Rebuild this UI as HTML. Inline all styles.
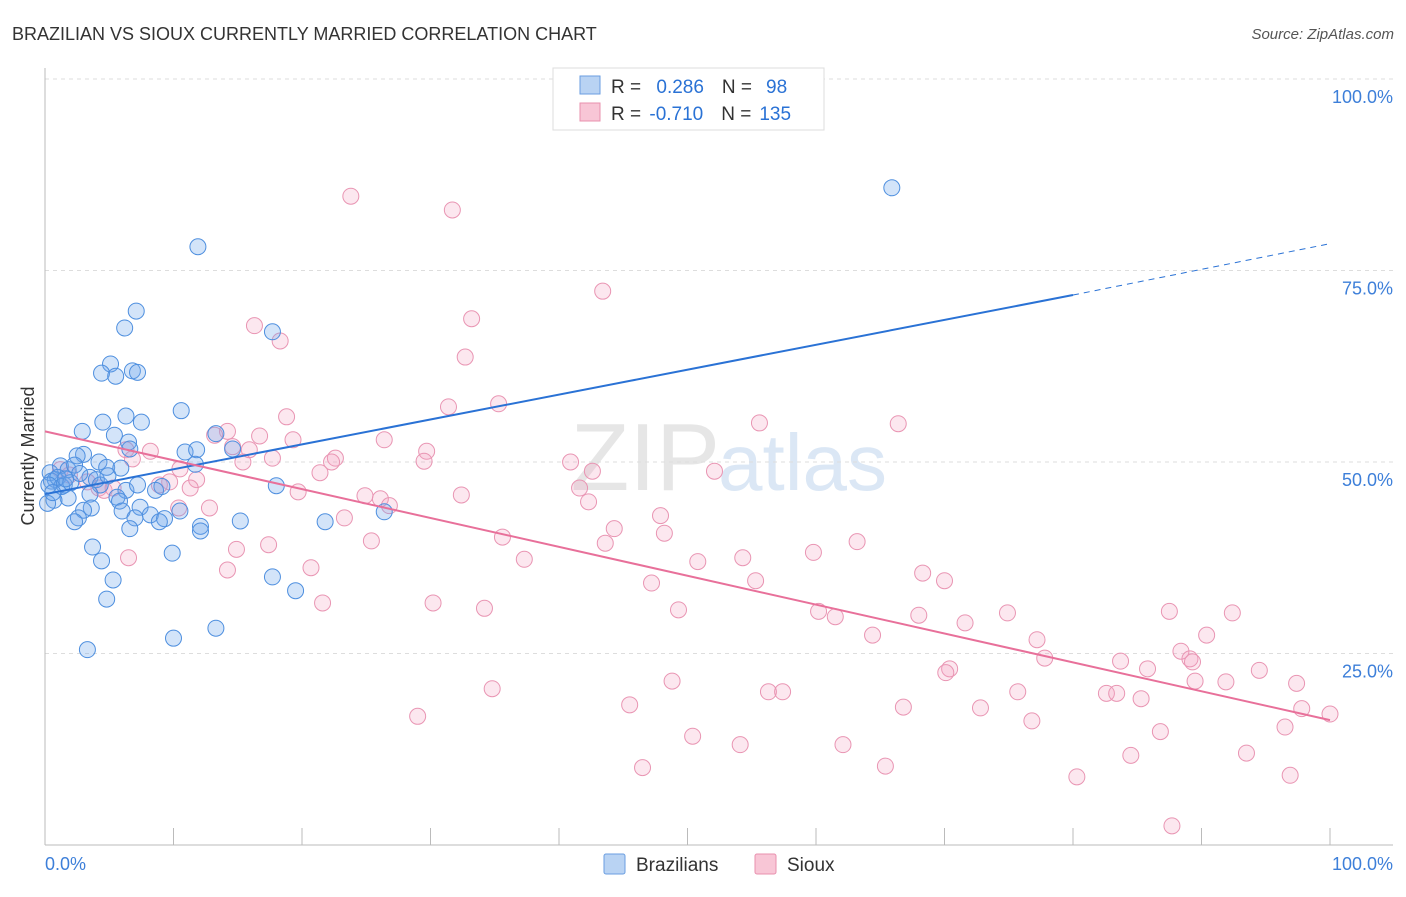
<!DOCTYPE html>
<html><head><meta charset="utf-8"><style>
body{margin:0;background:#fff;font-family:"Liberation Sans",sans-serif;}
svg text{font-family:"Liberation Sans",sans-serif;}
</style></head><body>
<svg id="chart" width="1406" height="892">
<text x="12" y="40" font-size="18" fill="#333">BRAZILIAN VS SIOUX CURRENTLY MARRIED CORRELATION CHART</text>
<text x="1394" y="39" font-size="15" fill="#555" font-style="italic" text-anchor="end">Source: ZipAtlas.com</text>
<text x="720" y="490" font-size="96" fill="#e6e6e6" text-anchor="end" font-family="Liberation Serif">ZIP</text>
<text x="718" y="490" font-size="80" fill="#dbe7f5">atlas</text>
<text transform="translate(34,456) rotate(-90)" font-size="18" fill="#333" text-anchor="middle">Currently Married</text>
<g id="grid"></g><g id="pts"></g><g id="lines"></g>
<g>
<rect x="553" y="68" width="271" height="62" fill="#fff" stroke="#ddd"/>
<rect x="580" y="76" width="20" height="18" fill="#b9d3f3" stroke="#6a9ee0"/>
<rect x="580" y="103" width="20" height="18" fill="#f8c6d6" stroke="#e890ae"/>
<text x="611" y="93" font-size="19" fill="#333">R = <tspan fill="#2a72d5" dx="10">0.286</tspan><tspan fill="#333" dx="18">N =</tspan><tspan fill="#2a72d5" dx="14">98</tspan></text>
<text x="611" y="120" font-size="19" fill="#333">R = <tspan fill="#2a72d5" dx="3">-0.710</tspan><tspan fill="#333" dx="18">N =</tspan><tspan fill="#2a72d5" dx="8">135</tspan></text>
</g>
<g>
<rect x="604" y="854" width="21" height="20" fill="#b9d3f3" stroke="#6a9ee0" rx="2"/>
<text x="636" y="871" font-size="19" fill="#333">Brazilians</text>
<rect x="755" y="854" width="21" height="20" fill="#f8c6d6" stroke="#e890ae" rx="2"/>
<text x="787" y="871" font-size="19" fill="#333">Sioux</text>
</g>
</svg>
<script>
const blueX=[65.9,11.9,7.1,6.2,17.7,5.1,4.4,5.5,6.8,7.2,10.6,6.3,4.5,7.5,2.9,5.4,13.3,6.5,10.9,11.8,14.6,6.6,3.0,2.5,4.2,4.8,5.9,11.7,1.2,1.8,2.3,0.4,0.8,1.5,3.5,4.0,4.3,4.9,18.0,9.1,8.6,6.3,7.2,5.6,5.8,3.5,1.8,0.7,0.2,7.4,6.0,3.6,3.0,10.5,26.4,8.2,9.3,7.0,2.6,2.3,15.2,21.8,8.9,12.1,12.1,6.6,3.7,9.9,4.4,5.3,17.7,19.5,4.8,13.3,10.0,3.3,0.5,1.0,1.3,2.0,2.7,0.3,0.6,1.6];
const blueY=[85.8,78.1,69.7,67.5,67.0,62.8,61.6,61.2,61.9,61.7,56.7,56.0,55.2,55.2,54.0,53.5,53.7,52.6,51.3,51.6,51.7,51.7,51.0,50.8,50.0,49.3,49.2,49.7,49.5,49.0,49.6,48.6,47.7,47.0,48.0,47.7,47.0,48.2,46.9,46.8,46.3,46.3,47.0,45.4,44.9,45.8,45.3,45.0,44.6,44.1,43.6,44.0,43.7,43.6,43.5,43.1,42.6,42.7,42.7,42.2,42.3,42.2,42.2,41.6,41.0,41.3,38.9,38.1,37.1,34.6,35.0,33.2,32.1,28.3,27.0,25.5,47.5,48.0,46.8,47.3,48.5,47.0,46.0,47.8];
const pinkX=[23.8,31.7,43.4,33.2,16.3,18.3,32.7,31.4,35.3,18.8,55.6,66.4,14.2,16.7,13.2,26.4,19.3,14.6,15.9,29.7,8.2,6.3,22.6,17.7,6.8,15.4,22.3,29.5,40.9,10.5,21.4,42.6,52.1,11.8,11.3,9.7,8.9,3.3,4.2,4.6,5.3,1.2,1.9,19.7,41.6,32.4,24.9,26.1,42.3,26.8,12.8,10.4,23.3,47.9,44.3,48.2,35.6,25.4,43.6,63.2,17.4,14.9,59.8,54.3,37.3,50.8,6.5,20.7,14.2,68.3,55.3,70.0,47.2,30.2,34.2,21.6,49.3,60.2,74.9,87.5,92.4,61.5,68.0,71.6,90.4,64.4,77.2,77.8,88.4,83.7,89.1,89.3,85.8,70.4,70.1,94.5,48.8,97.4,89.5,91.9,34.8,56.3,57.4,75.7,82.6,83.4,85.3,45.5,66.8,72.8,97.8,100,29.0,76.8,96.5,86.8,50.4,54.1,62.1,84.5,93.5,65.4,46.5,80.3,96.9,87.7];
const pinkY=[84.7,82.9,72.3,68.7,67.8,65.8,63.7,57.2,57.6,55.9,55.1,55.0,54.0,53.4,53.5,52.9,52.9,52.0,51.6,51.4,51.4,51.6,50.5,50.5,50.4,50.0,50.0,50.1,50.0,49.1,48.6,48.8,48.8,47.7,46.6,47.4,47.0,47.4,46.6,46.3,46.6,49.0,48.3,46.1,46.6,45.7,45.6,45.2,44.8,44.3,44.0,44.0,42.7,43.0,41.3,40.7,40.2,39.7,39.4,39.6,39.2,38.6,38.2,37.5,37.3,37.0,37.5,36.2,35.9,35.5,34.5,34.5,34.2,31.6,30.9,31.6,30.7,30.5,30.3,30.5,30.3,29.8,30.0,29.0,27.4,27.4,26.8,24.4,25.3,24.0,24.3,23.9,23.0,23.0,22.5,22.8,21.4,21.1,21.4,21.3,20.4,20.0,20.0,20.0,19.8,19.8,19.1,18.3,18.0,17.9,17.8,17.1,16.8,16.2,15.4,14.8,14.2,13.1,13.1,11.7,12.0,10.3,10.1,8.9,9.1,2.5];
const blueLine=[0,45.8,80,71.8,100,78.5];
const pinkLine=[0,54.0,100,16.3];
const yTicks=[25,50,75,100];
const xTickVals=[10,20,30,40,50,60,70,80,90,100];
const NS='http://www.w3.org/2000/svg';
const sx=v=>45+v*12.85, sy=v=>845-v*7.66;
function mk(t,a,p){const e=document.createElementNS(NS,t);for(const k in a)e.setAttribute(k,a[k]);p.appendChild(e);return e;}
const grid=document.getElementById('grid');
for(const t of yTicks){
 const l=mk('line',{x1:45,x2:1393,y1:sy(t),y2:sy(t),stroke:'#ddd','stroke-dasharray':'4,4'},grid);
 
 
 const tx=mk('text',{x:1393,y:sy(t)+24,'font-size':18,fill:'#3d7fd9','text-anchor':'end'},grid);
 tx.textContent=t.toFixed(1)+'%';
 
 
}
let ax=mk('line',{x1:45,x2:45,y1:68,y2:845,stroke:'#bbb'},grid);


let bx=mk('line',{x1:45,x2:1393,y1:845,y2:845,stroke:'#bbb'},grid);


for(const t of xTickVals){
 const l=mk('line',{x1:sx(t),x2:sx(t),y1:828,y2:845,stroke:'#bbb'},grid);
 
 
}
const xl0=mk('text',{x:45,y:870,'font-size':18,fill:'#3d7fd9'},grid);xl0.textContent='0.0%';


const xl1=mk('text',{x:1393,y:870,'font-size':18,fill:'#3d7fd9','text-anchor':'end'},grid);xl1.textContent='100.0%';


const pts=document.getElementById('pts');
for(let i=0;i<pinkX.length;i++){
 const c=mk('circle',{cx:sx(pinkX[i]),cy:sy(pinkY[i]),r:8,fill:'rgba(244,160,190,0.25)',stroke:'#e995b3','stroke-width':1},pts);
 
 
}
for(let i=0;i<blueX.length;i++){
 const c=mk('circle',{cx:sx(blueX[i]),cy:sy(blueY[i]),r:8,fill:'rgba(110,165,235,0.3)',stroke:'#4e8fdf','stroke-width':1},pts);
 
 
}
const lines=document.getElementById('lines');
let b1=mk('line',{x1:sx(blueLine[0]),y1:sy(blueLine[1]),x2:sx(blueLine[2]),y2:sy(blueLine[3]),stroke:'#2a72d5','stroke-width':2},lines);


let b2=mk('line',{x1:sx(blueLine[2]),y1:sy(blueLine[3]),x2:sx(blueLine[4]),y2:sy(blueLine[5]),stroke:'#2a72d5','stroke-width':1,'stroke-dasharray':'6,5'},lines);


let p1=mk('line',{x1:sx(pinkLine[0]),y1:sy(pinkLine[1]),x2:sx(pinkLine[2]),y2:sy(pinkLine[3]),stroke:'#e8709a','stroke-width':2},lines);


</script>
</body></html>
